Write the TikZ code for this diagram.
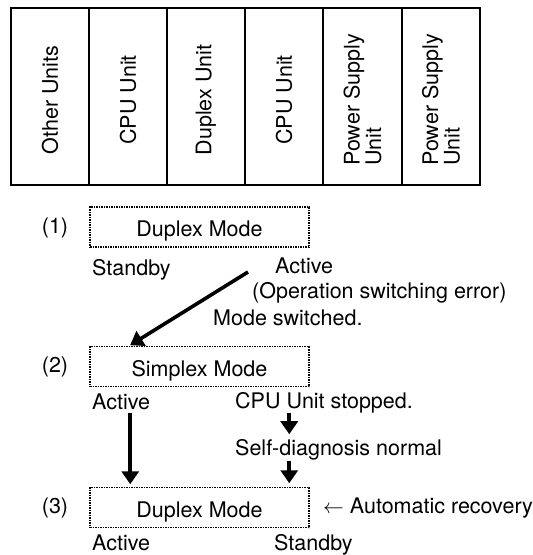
\documentclass[tikz,border=0pt]{standalone}
\usepackage{fontspec}
\setmainfont{TeX Gyre Heros}
\usetikzlibrary{arrows.meta}
\tikzset{
  unitline/.style = {line width = 2.6pt},
  modebox/.style = {draw, line width = 1.5pt, dash pattern = on 1.5pt off 1pt,
    minimum width = 219pt, minimum height = 40pt, inner sep = 0pt,
    text height = 19pt, text depth = 0pt},
  lbl/.style = {inner sep = 0pt, anchor = base west},
  bigarrow/.style = {line width = 3.6pt, -{Triangle[width = 17pt, length = 13pt]}}
}
\begin{document}
\begin{tikzpicture}[x = 1pt, y = 1pt, yscale = -1, font = \fontsize{21.5}{21.5}\selectfont]
\useasboundingbox (0,0) rectangle (533,555);
% rack of units
\draw[unitline] (11,8) rectangle (480,185);
\foreach \x in {89,167,245,323,402}
{
\draw[unitline] (\x,8) -- (\x,185);
}
\foreach \i/\x/\txt in {1/50/Other Units, 2/128/CPU Unit, 3/206/Duplex Unit, 4/284/CPU Unit,
  5/362.5/{Power Supply\\Unit}, 6/441/{Power Supply\\Unit}}
{
\node[rotate = 90, align = left, inner sep = 0pt] (unit\i) at (\x, 100) {\txt};
}
% step (1)
\node (num1) at (55,228) {(1)};
\node[modebox] (mode1) at (199.5,227) {Duplex Mode};
\node[lbl] (stby1) at (92,275) {Standby};
\node[lbl] (act1) at (275,273) {Active};
\node[lbl] (err1) at (252,298) {(Operation switching error)};
\node[lbl] (sw1) at (213,325) {Mode switched.};
% step (2)
\node (num2) at (55,367) {(2)};
\node[modebox] (mode2) at (199.5,366.5) {Simplex Mode};
\node[lbl] (act2) at (92,409) {Active};
\node[lbl] (stop2) at (235,408) {CPU Unit stopped.};
\node[lbl] (diag2) at (235,455) {Self-diagnosis normal};
% step (3)
\node (num3) at (55,508) {(3)};
\node[modebox] (mode3) at (199.5,507.5) {Duplex Mode};
\node[lbl] (auto3) at (323,513) {$\leftarrow$ Automatic recovery};
\node[lbl] (act3) at (92,550) {Active};
\node[lbl] (stby3) at (274,550) {Standby};
% arrows
\coordinate (from1) at (248,272);
\coordinate (tipa) at ([xshift = 41pt]mode3.north west);
\coordinate (tipb) at ([xshift = 200pt]mode3.north west);
\draw[bigarrow, shorten > = 1pt] (from1) -- ([xshift = 40pt]mode2.north west);
\draw[bigarrow, shorten < = 3pt, shorten > = 2.5pt] (act2.south -| tipa) -- (tipa);
\draw[bigarrow, shorten < = 0.5pt, shorten > = 4.5pt] (stop2.south -| tipb) -- (diag2.north -| tipb);
\draw[bigarrow, shorten < = 1.5pt, shorten > = 3.5pt] (diag2.south -| tipb) -- (tipb);
\end{tikzpicture}
\end{document}
